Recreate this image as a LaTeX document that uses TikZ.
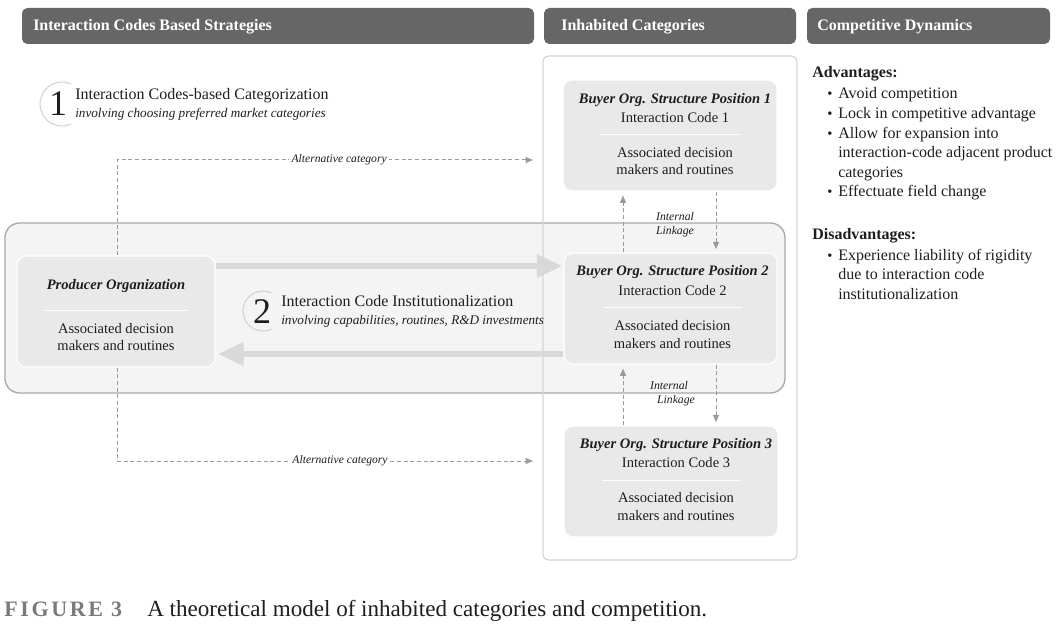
\documentclass[tikz,border=0pt]{standalone}
\usepackage{fontspec}
\setmainfont{Liberation Serif}
\usetikzlibrary{arrows.meta,calc}
\definecolor{hdr}{HTML}{666666}
\definecolor{boxfill}{HTML}{E9E9E9}
\definecolor{panelfill}{HTML}{F4F4F4}
\definecolor{panelline}{HTML}{A8A8A8}
\definecolor{inhline}{HTML}{D4D4D4}
\definecolor{fatarrow}{HTML}{D9D9D9}
\definecolor{dashcol}{HTML}{9A9A9A}
\definecolor{circcol}{HTML}{D2D2D2}
\definecolor{capgray}{HTML}{7A7A7A}
\definecolor{txt}{HTML}{1E1E1E}
\tikzset{
 hdrbox/.style={fill=hdr, rounded corners=4pt, inner sep=0pt},
 hdrtext/.style={anchor=base west, inner sep=0pt, text=white, font=\fontsize{12}{14}\selectfont\bfseries},
 orgbox/.style={fill=boxfill, draw=white, line width=0.8pt, rounded corners=7pt, inner sep=0pt},
 ttl/.style={anchor=base, inner sep=0pt, text=txt, font=\fontsize{10.9}{12}\selectfont\bfseries\itshape},
 body/.style={anchor=base, inner sep=0pt, text=txt, font=\fontsize{10.9}{12}\selectfont},
 sepline/.style={draw=white, line width=1pt},
 fatarrowstyle/.style={draw=fatarrow, line width=3.8pt, -{Triangle[length=19pt,width=17pt]}},
 dashconn/.style={draw=dashcol, line width=0.75pt, dash pattern=on 3pt off 2pt, -{Triangle[length=5.5pt,width=4.5pt]}},
 smallit/.style={inner sep=0pt, text=txt, font=\fontsize{8.8}{10}\selectfont\itshape},
 altlabel/.style={fill=white, inner sep=2pt, text=txt, font=\fontsize{8.7}{10}\selectfont\itshape},
 numcirc/.style={draw=circcol, line width=0.8pt},
 bignum/.style={anchor=base, inner sep=0pt, text=txt, font=\fontsize{27}{30}\selectfont},
 steptitle/.style={anchor=base west, inner sep=0pt, text=txt, font=\fontsize{12}{14}\selectfont},
 stepsub/.style={anchor=base west, inner sep=0pt, text=txt, font=\fontsize{9.9}{11}\selectfont\itshape},
 rtext/.style={anchor=base west, inner sep=0pt, text=txt, font=\fontsize{12}{14}\selectfont},
 rbul/.style={anchor=base west, inner sep=0pt, text=txt, font=\fontsize{11}{14}\selectfont},
 rhead/.style={anchor=base west, inner sep=0pt, text=txt, font=\fontsize{12}{14}\selectfont\bfseries},
}
\begin{document}
\begin{tikzpicture}[x=0.75pt,y=-0.75pt]
\useasboundingbox (0,0) rectangle (1059,624);

% headers
\node[hdrbox, minimum width=384pt, minimum height=27pt] (h1) at (278,26) {};
\node[hdrtext] (h1t) at (33,31) {Interaction Codes Based Strategies};
\node[hdrbox, minimum width=189pt, minimum height=27pt] (h2) at (670,26) {};
\node[hdrtext] (h2t) at (561,31) {Inhabited Categories};
\node[hdrbox, minimum width=182.25pt, minimum height=27pt] (h3) at (928.5,26) {};
\node[hdrtext] (h3t) at (817,31) {Competitive Dynamics};

% big light panel
\node[fill=panelfill, draw=panelline, line width=1pt, rounded corners=11pt, minimum width=585pt, minimum height=127.5pt, inner sep=0pt] (panel) at (395,308) {};
% inhabited categories frame
\node[draw=inhline, line width=0.9pt, rounded corners=4pt, minimum width=190.5pt, minimum height=378pt, inner sep=0pt] (inh) at (670,308) {};

% producer organization
\node[orgbox, minimum width=148.5pt, minimum height=83.25pt] (prod) at (116,311.5) {};
\node[ttl] (prodt) at ($(prod.north)+(0,34.5)$) {Producer Organization};
\draw[sepline] ($(prod.north)+(-71,55)$) -- ($(prod.north)+(72,55)$);
\node[body] (proda) at ($(prod.north)+(0,78.5)$) {Associated decision};
\node[body] (prodm) at ($(prod.north)+(0,95.5)$) {makers and routines};

% buyer boxes
\node[orgbox, minimum width=160.5pt, minimum height=83.25pt] (b1) at (670,135.5) {};
\node[ttl] (b1t) at ($(b1.north)+(5,24)$) {Buyer Org. Structure Position 1};
\node[body] (b1c) at ($(b1.north)+(5,43.5)$) {Interaction Code 1};
\draw[sepline] ($(b1.north)+(-70,55)$) -- ($(b1.north)+(71,55)$);
\node[body] (b1a) at ($(b1.north)+(5,78.5)$) {Associated decision};
\node[body] (b1m) at ($(b1.north)+(5,95.5)$) {makers and routines};

\node[orgbox, minimum width=159.75pt, minimum height=83.25pt] (b2) at (670.5,308.5) {};
\node[ttl] (b2t) at ($(b2.north)+(2,23.5)$) {Buyer Org. Structure Position 2};
\node[body] (b2c) at ($(b2.north)+(2,43.5)$) {Interaction Code 2};
\draw[sepline] ($(b2.north)+(-67,55)$) -- ($(b2.north)+(71,55)$);
\node[body] (b2a) at ($(b2.north)+(2,78.5)$) {Associated decision};
\node[body] (b2m) at ($(b2.north)+(2,96)$) {makers and routines};

\node[orgbox, minimum width=160.5pt, minimum height=83.25pt] (b3) at (671,481.5) {};
\node[ttl] (b3t) at ($(b3.north)+(5,23.5)$) {Buyer Org. Structure Position 3};
\node[body] (b3c) at ($(b3.north)+(5,42.5)$) {Interaction Code 3};
\draw[sepline] ($(b3.north)+(-69,55)$) -- ($(b3.north)+(70,55)$);
\node[body] (b3a) at ($(b3.north)+(5,77.5)$) {Associated decision};
\node[body] (b3m) at ($(b3.north)+(5,95.5)$) {makers and routines};

% fat arrows
\coordinate (yup) at (0,266);
\coordinate (ydn) at (0,354);
\draw[fatarrowstyle] (prod.east |- yup) -- ([xshift=-1pt]b2.west |- yup);
\draw[fatarrowstyle] (b2.west |- ydn) -- ([xshift=2pt]prod.east |- ydn);

% step 1
\draw[numcirc] (62,104) ++(65:22) arc[start angle=65, end angle=295, radius=22];
\node[bignum] (n1) at (58,116) {1};
\node[steptitle] (s1t) at (75,100) {Interaction Codes-based Categorization};
\node[stepsub] (s1s) at (75,118) {involving choosing preferred market categories};

% step 2
\draw[numcirc] (263,311) ++(65:20) arc[start angle=65, end angle=295, radius=20];
\node[bignum] (n2) at (262,323) {2};
\node[steptitle] (s2t) at (281,306) {Interaction Code Institutionalization};
\node[stepsub] (s2s) at (281,324.5) {involving capabilities, routines, R\&D investments};

% alternative category connectors
\coordinate (px) at (117,0);
\coordinate (ae1) at (533,160);
\coordinate (ae2) at (533,461);
\draw[dashconn] (prod.north -| px) |- (ae1) node[altlabel, pos=0.767] (alt1) {Alternative category};
\draw[dashconn] (prod.south -| px) |- (ae2) node[altlabel, pos=0.768] (alt2) {Alternative category};

% internal linkages
\coordinate (ux) at (623,0);
\coordinate (dx) at (716,0);
\draw[dashconn, shorten >=3pt] (b2.north -| ux) -- (b1.south -| ux);
\draw[dashconn, shorten >=2.5pt] (b1.south -| dx) -- (b2.north -| dx);
\node[smallit] (il1a) at (675,216) {Internal};
\node[smallit] (il1b) at (675,232) {Linkage};
\draw[dashconn, shorten >=3pt] (b3.north -| ux) -- (b2.south -| ux);
\draw[dashconn, shorten >=2.5pt] (b2.south -| dx) -- (b3.north -| dx);
\node[smallit] (il2a) at (669,385) {Internal};
\node[smallit] (il2b) at (676,401) {Linkage};

% competitive dynamics
\node[rhead] (adv) at (812,78) {Advantages:};
\node[rbul] (bul1) at (827,99) {\textbullet};
\node[rtext] (a1) at (838,99) {Avoid competition};
\node[rbul] (bul2) at (827,118.5) {\textbullet};
\node[rtext] (a2) at (838,118.5) {Lock in competitive advantage};
\node[rbul] (bul3) at (827,138) {\textbullet};
\node[rtext] (a3) at (838,138) {Allow for expansion into};
\node[rtext] (a4) at (838,157.5) {interaction-code adjacent product};
\node[rtext] (a5) at (838,177) {categories};
\node[rbul] (bul4) at (827,196.5) {\textbullet};
\node[rtext] (a6) at (838,196.5) {Effectuate field change};
\node[rhead] (dis) at (812,239) {Disadvantages:};
\node[rbul] (bul5) at (827,260) {\textbullet};
\node[rtext] (d1) at (838,260) {Experience liability of rigidity};
\node[rtext] (d2) at (838,279.5) {due to interaction code};
\node[rtext] (d3) at (838,299) {institutionalization};

% caption
\node[anchor=base west, inner sep=0pt, text=capgray, font=\fontsize{16.5}{18}\selectfont\bfseries\addfontfeature{LetterSpace=12}] (figlab) at (4,616) {FIGURE 3};
\node[anchor=base west, inner sep=0pt, text=txt, font=\fontsize{17.3}{19}\selectfont] (cap) at (147,616) {A theoretical model of inhabited categories and competition.};
\end{tikzpicture}
\end{document}
